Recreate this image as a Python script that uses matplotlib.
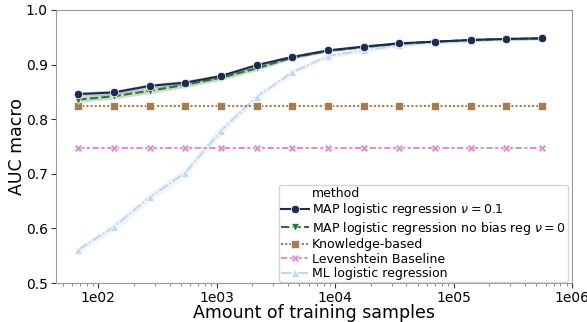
"""AUC macro vs amount of training samples."""
import matplotlib
matplotlib.use("Agg")
import matplotlib.pyplot as plt
from matplotlib.lines import Line2D
from matplotlib.ticker import FuncFormatter, LogLocator
import numpy as np

n_samples = [68 * 2 ** k for k in range(14)]

map_lr = [0.846, 0.849, 0.861, 0.867, 0.879, 0.899, 0.914, 0.926, 0.933, 0.939, 0.942, 0.945, 0.947, 0.948]
map_nobias = [0.836, 0.842, 0.852, 0.863, 0.876, 0.893, 0.913, 0.925, 0.932, 0.938, 0.942, 0.945, 0.947, 0.948]
knowledge = [0.825] * 14
levenshtein = [0.748] * 14
ml_lr = [0.561, 0.603, 0.657, 0.702, 0.779, 0.841, 0.886, 0.916, 0.926, 0.935, 0.940, 0.943, 0.946, 0.948]

# half-width of the shaded confidence bands
map_ci = [0.004, 0.004, 0.004, 0.004, 0.004, 0.003, 0.003, 0.002, 0.002, 0.002, 0.002, 0.002, 0.002, 0.002]
nobias_ci = [0.005, 0.005, 0.005, 0.005, 0.005, 0.004, 0.003, 0.002, 0.002, 0.002, 0.002, 0.002, 0.002, 0.002]
ml_ci = [0.006, 0.008, 0.008, 0.009, 0.008, 0.006, 0.005, 0.004, 0.004, 0.003, 0.003, 0.003, 0.003, 0.003]

labels = [
    r"MAP logistic regression $\nu = 0.1$",
    r"MAP logistic regression no bias reg $\nu = 0$",
    "Knowledge-based",
    "Levenshtein Baseline",
    "ML logistic regression",
]
colors = ["#1d2c4e", "#2f7538", "#a67c52", "#dd8fd3", "#c2d8f1"]
markers = ["o", "v", "s", "X", "^"]
dashes = [(None, None), (4, 1.5), (1, 1), (3, 1.25, 1.5, 1.25), (5, 1, 1, 1)]

series = [map_lr, map_nobias, knowledge, levenshtein, ml_lr]
bands = [map_ci, nobias_ci, None, None, ml_ci]

fig = plt.figure(figsize=(5.87, 3.22), dpi=100)
ax = fig.add_axes([0.0954, 0.121, 0.879, 0.848])

x = np.array(n_samples)
handles = [Line2D([], [], linestyle="none", marker="none")]
hlabels = ["method"]
# draw the ML line first so the MAP lines sit on top
order = [4, 3, 2, 1, 0]
for i in order:
    y = np.array(series[i])
    if bands[i] is not None:
        ci = np.array(bands[i])
        ax.fill_between(x, y - ci, y + ci, color=colors[i], alpha=0.25, lw=0)
    ln, = ax.plot(x, y, color=colors[i], marker=markers[i], markersize=6,
                  markeredgecolor="white", markeredgewidth=0.5, lw=1.5)
    if dashes[i][0] is not None:
        ln.set_dashes(dashes[i])
for i in range(5):
    ln = Line2D([], [], color=colors[i], marker=markers[i], markersize=6,
                markeredgecolor="white", markeredgewidth=0.5, lw=1.5)
    if dashes[i][0] is not None:
        ln.set_dashes(dashes[i])
    handles.append(ln)
    hlabels.append(labels[i])

ax.set_xscale("log")
ax.set_xlim(44, 1.0e6)
ax.set_ylim(0.5, 1.0)
ax.set_yticks([0.5, 0.6, 0.7, 0.8, 0.9, 1.0])
ax.xaxis.set_major_locator(LogLocator(base=10))
ax.xaxis.set_major_formatter(FuncFormatter(lambda v, p: f"1e{int(round(np.log10(v))):02d}"))
ax.tick_params(labelsize=10, length=3.5, color="#333333", pad=2.5)
ax.tick_params(which="minor", length=2, color="#777777")
for s in ax.spines.values():
    s.set_color("#999999")
ax.set_xlabel("Amount of training samples", fontsize=12.5)
ax.set_ylabel("AUC macro", fontsize=12.5)
ax.xaxis.set_label_coords(0.5, -0.078)
ax.yaxis.set_label_coords(-0.058, 0.5)

ax.legend(handles, hlabels, loc="lower right", bbox_to_anchor=(0.992, 0.004),
          borderaxespad=0, fontsize=9, handlelength=2.3, handletextpad=0.2,
          labelspacing=0.12, borderpad=0.15)

fig.savefig("out.png", dpi=100)
